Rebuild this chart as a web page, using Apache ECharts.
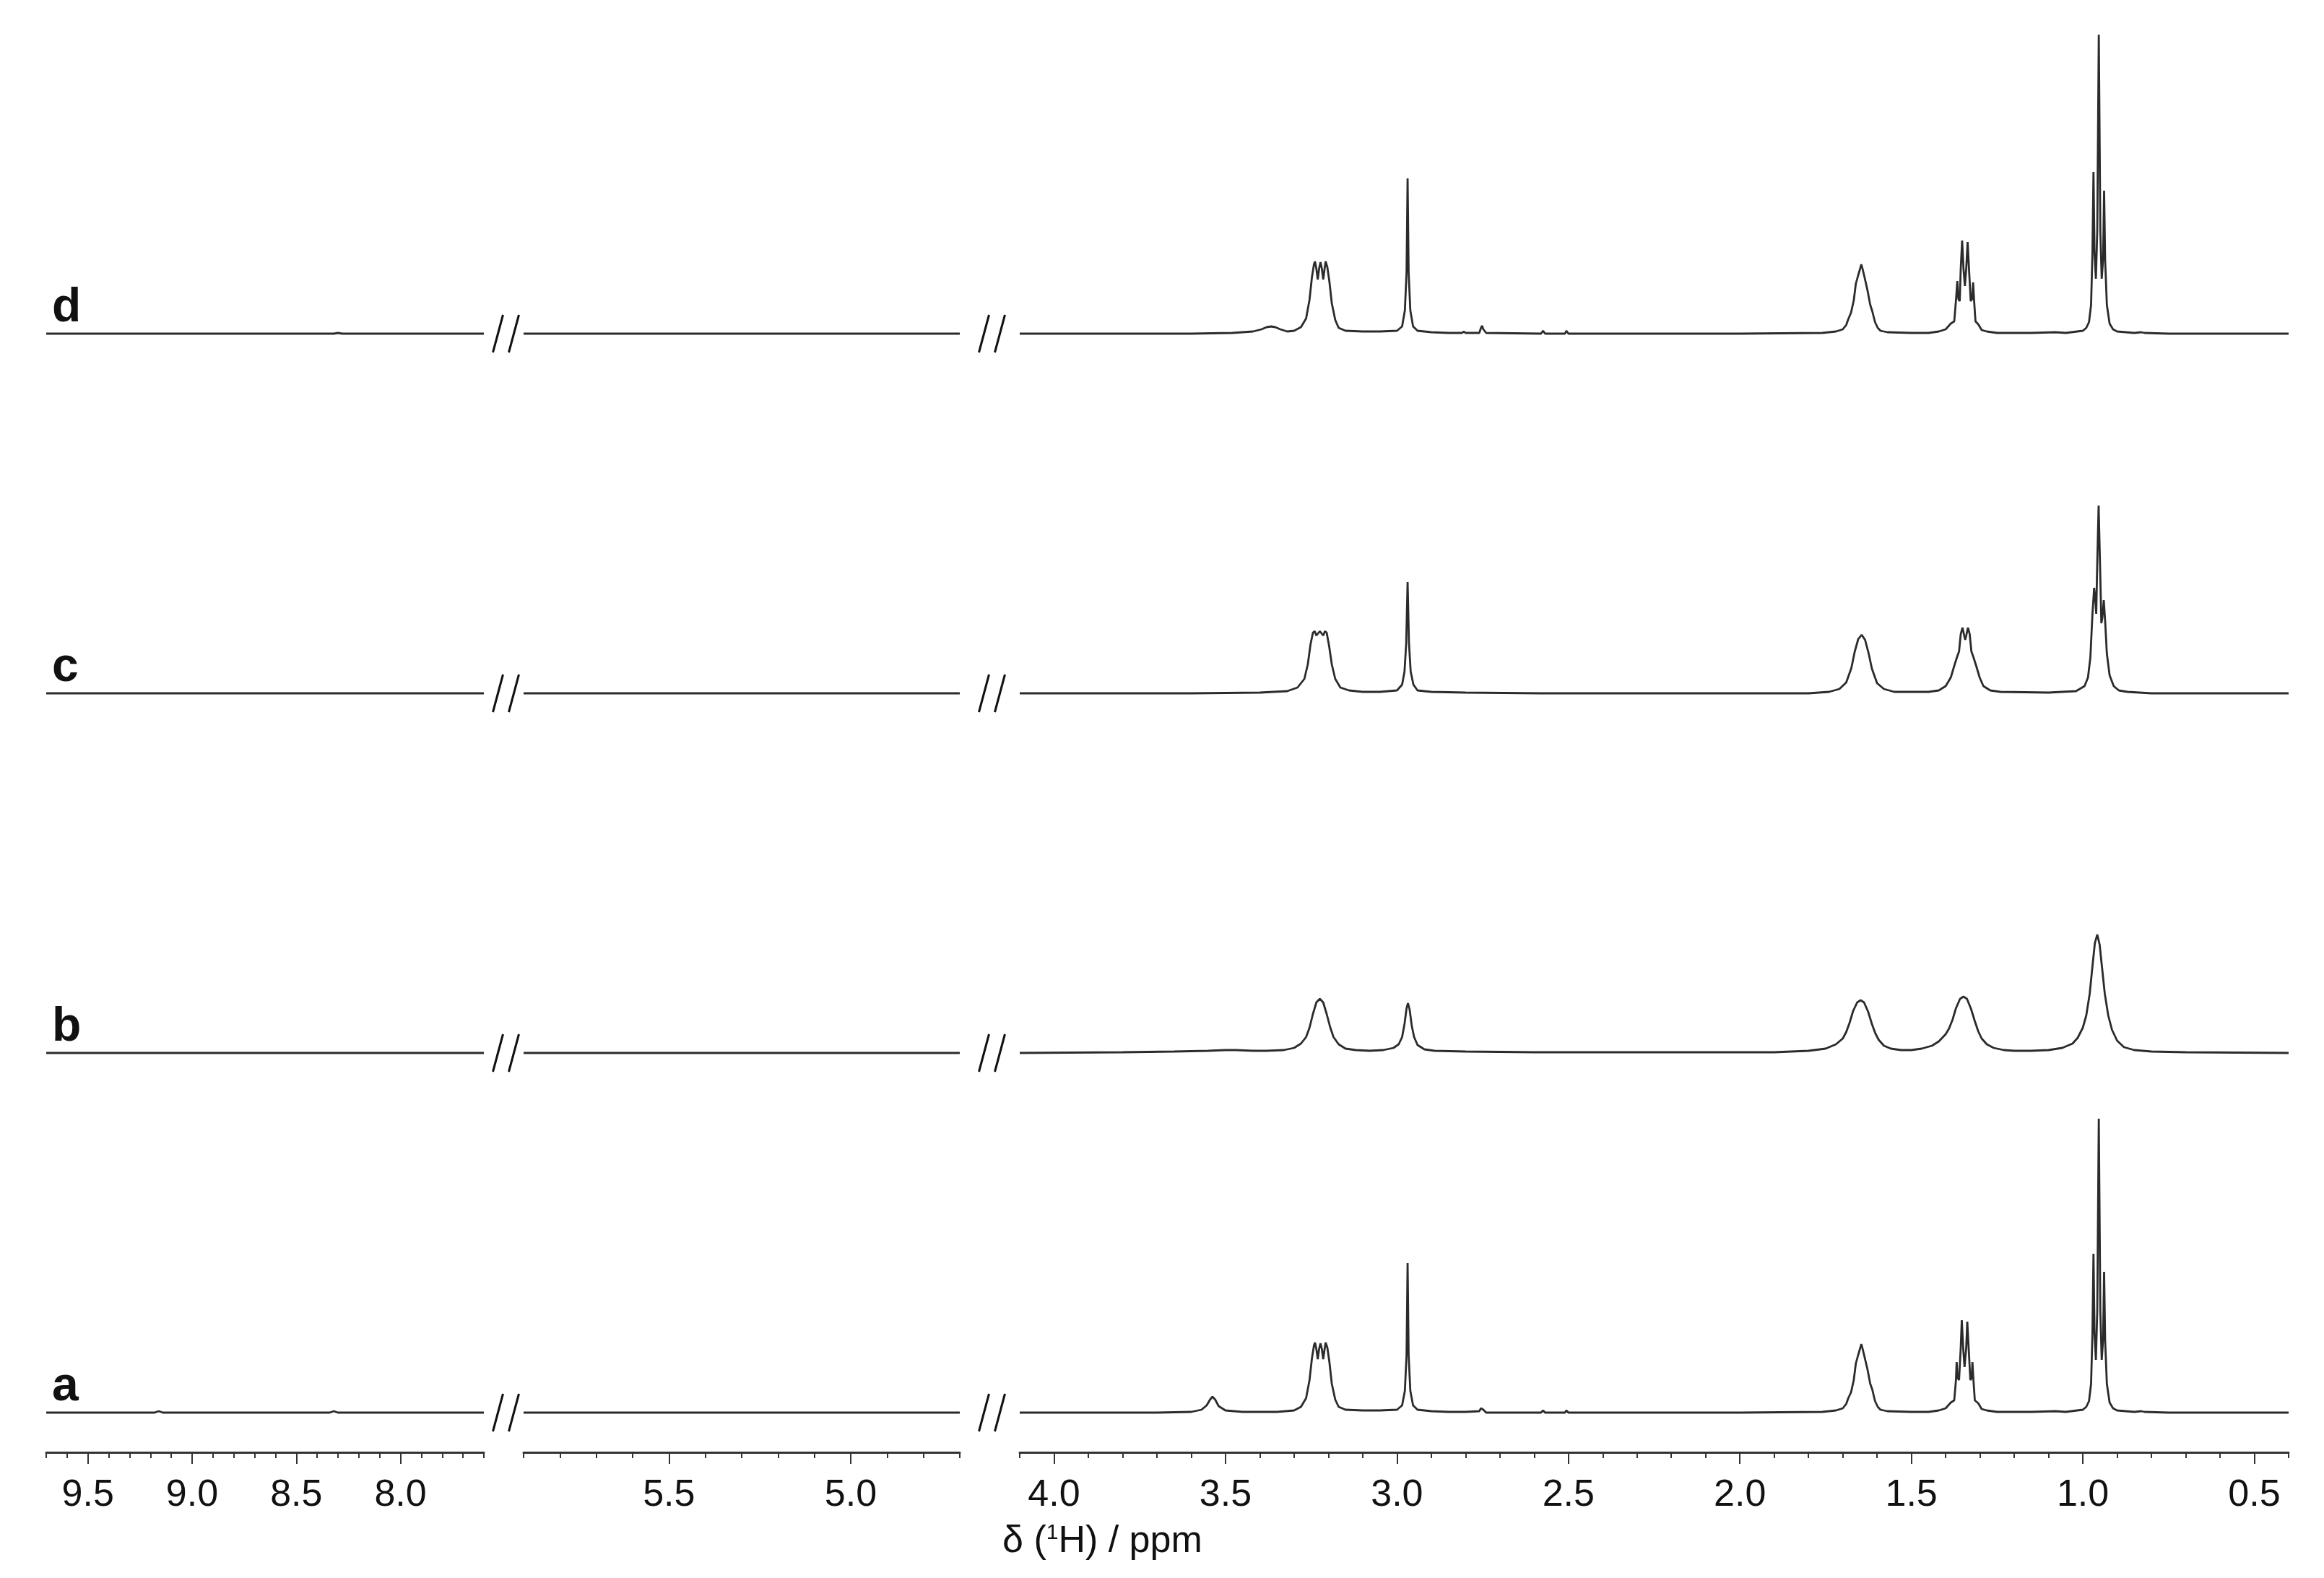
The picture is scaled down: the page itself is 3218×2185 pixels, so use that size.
<!DOCTYPE html>
<html>
<head>
<meta charset="utf-8">
<script src="https://cdn.jsdelivr.net/npm/echarts@6/dist/echarts.min.js"></script>
<style>
  html, body { margin: 0; padding: 0; background: #fff; }
  #chart { width: 3218px; height: 2185px; }
</style>
</head>
<body>
<div id="chart"></div>
<script>
// ppm windows of the three axis pieces (min, max), drawn reversed
const ppmRanges = [[7.6, 9.7], [4.7, 5.9], [0.4, 4.1]]
const majorTicks = [
  [9.5, 9.0, 8.5, 8.0],
  [5.5, 5.0],
  [4.0, 3.5, 3.0, 2.5, 2.0, 1.5, 1.0, 0.5]
]
const rowLabels = ['a', 'b', 'c', 'd']
// vertical shift of each trace (stacked spectra)
const rowOffsets = [55, 553, 1051, 1549]

// [ppm, intensity]
const aLeft = [[9.7, 0], [9.18, 0], [9.16, 2], [9.14, 0], [8.34, 0], [8.32, 2], [8.30, 0], [7.6, 0]]
const aMid = [[5.9, 0], [4.7, 0]]
const traceA = [
  [4.10, 0], [3.70, 0], [3.60, 1], [3.57, 4], [3.555, 10], [3.545, 18], [3.538, 22], [3.53, 18], [3.52, 9], [3.50, 3], [3.45, 1],
  [3.35, 1], [3.30, 3], [3.28, 8], [3.265, 20], [3.255, 45], [3.248, 75], [3.242, 93], [3.239, 97], [3.235, 88], [3.231, 74],
  [3.227, 88], [3.223, 96], [3.219, 88], [3.215, 74], [3.211, 88], [3.208, 97], [3.203, 90], [3.197, 70], [3.19, 40], [3.18, 18],
  [3.17, 8], [3.15, 4], [3.10, 3], [3.05, 3], [3.00, 4], [2.985, 10], [2.977, 30], [2.972, 80], [2.969, 207], [2.966, 80],
  [2.961, 30], [2.953, 10], [2.94, 4], [2.90, 2], [2.85, 1], [2.80, 1], [2.76, 2], [2.755, 6], [2.752, 7], [2.748, 4], [2.74, 0],
  [2.58, 0], [2.574, 3], [2.568, 0], [2.51, 0], [2.506, 3], [2.50, 0], [2.00, 0],
  [1.76, 1], [1.72, 3], [1.70, 6], [1.69, 12], [1.684, 20], [1.676, 28], [1.668, 45], [1.662, 68], [1.655, 80], [1.650, 88],
  [1.646, 95], [1.642, 88], [1.636, 76], [1.628, 60], [1.620, 40], [1.614, 32], [1.606, 16], [1.598, 8], [1.59, 4], [1.57, 2],
  [1.50, 1], [1.45, 1], [1.42, 3], [1.40, 6], [1.385, 14], [1.375, 17], [1.37, 45], [1.368, 70], [1.365, 48], [1.361, 45],
  [1.356, 90], [1.353, 128], [1.349, 90], [1.345, 63], [1.340, 90], [1.337, 126], [1.333, 90], [1.328, 45], [1.324, 48],
  [1.322, 70], [1.319, 45], [1.315, 17], [1.305, 13], [1.295, 5], [1.28, 3], [1.25, 1], [1.15, 1], [1.08, 2], [1.05, 1],
  [1.00, 4], [0.99, 8], [0.982, 16], [0.976, 40], [0.972, 110], [0.969, 220], [0.966, 110], [0.962, 73], [0.958, 140],
  [0.9535, 407], [0.949, 140], [0.945, 73], [0.941, 100], [0.938, 195], [0.935, 100], [0.930, 40], [0.922, 14], [0.912, 6],
  [0.90, 3], [0.85, 1], [0.83, 2], [0.826, 3], [0.82, 1], [0.75, 0], [0.40, 0]
]

const bLeft = [[9.7, 0], [7.6, 0]]
const bMid = [[5.9, 0], [4.7, 0]]
const traceB = [
  [4.10, 0], [3.80, 1], [3.65, 2], [3.55, 3], [3.50, 4], [3.47, 4], [3.42, 3], [3.38, 3], [3.33, 4], [3.30, 7], [3.28, 13],
  [3.265, 22], [3.255, 35], [3.245, 54], [3.235, 70], [3.225, 75], [3.215, 70], [3.205, 54], [3.195, 36], [3.185, 22],
  [3.17, 12], [3.15, 6], [3.12, 4], [3.08, 3], [3.04, 4], [3.01, 7], [2.995, 12], [2.985, 22], [2.978, 40], [2.972, 62],
  [2.968, 69], [2.963, 60], [2.957, 38], [2.95, 22], [2.94, 11], [2.92, 5], [2.89, 3], [2.80, 2], [2.60, 1], [2.20, 1],
  [1.90, 1], [1.80, 3], [1.75, 6], [1.72, 12], [1.70, 20], [1.69, 29], [1.68, 42], [1.67, 58], [1.658, 70], [1.648, 73],
  [1.638, 70], [1.626, 57], [1.615, 40], [1.605, 27], [1.595, 18], [1.58, 10], [1.56, 6], [1.53, 4], [1.50, 4], [1.47, 6],
  [1.44, 10], [1.42, 16], [1.40, 26], [1.39, 34], [1.38, 46], [1.37, 62], [1.358, 75], [1.348, 78], [1.338, 75], [1.326, 61],
  [1.315, 44], [1.305, 30], [1.295, 20], [1.28, 12], [1.26, 7], [1.23, 4], [1.20, 3], [1.15, 3], [1.10, 4], [1.06, 7],
  [1.03, 13], [1.015, 21], [1.00, 35], [0.99, 52], [0.98, 82], [0.972, 120], [0.965, 152], [0.958, 164], [0.951, 150],
  [0.944, 118], [0.936, 82], [0.926, 52], [0.915, 32], [0.90, 17], [0.88, 8], [0.85, 4], [0.80, 2], [0.70, 1], [0.40, 0]
]

const cLeft = [[9.7, 0], [7.6, 0]]
const cMid = [[5.9, 0], [4.7, 0]]
const traceC = [
  [4.10, 0], [3.60, 0], [3.40, 1], [3.32, 3], [3.29, 8], [3.27, 20], [3.26, 40], [3.252, 68], [3.245, 84], [3.240, 86],
  [3.235, 80], [3.230, 83], [3.225, 86], [3.22, 83], [3.215, 80], [3.21, 86], [3.205, 84], [3.198, 66], [3.19, 40],
  [3.18, 20], [3.165, 8], [3.14, 4], [3.10, 2], [3.05, 2], [3.00, 4], [2.985, 12], [2.978, 30], [2.973, 70], [2.969, 154],
  [2.965, 70], [2.96, 30], [2.952, 12], [2.94, 4], [2.90, 2], [2.80, 1], [2.58, 0], [1.80, 0], [1.74, 2], [1.71, 6],
  [1.69, 15], [1.675, 35], [1.665, 58], [1.655, 75], [1.645, 81], [1.635, 74], [1.625, 56], [1.615, 34], [1.60, 14],
  [1.58, 6], [1.55, 2], [1.45, 2], [1.42, 4], [1.40, 10], [1.385, 22], [1.375, 38], [1.367, 50], [1.361, 58], [1.356, 82],
  [1.351, 91], [1.346, 80], [1.343, 74], [1.340, 80], [1.335, 91], [1.330, 82], [1.325, 58], [1.319, 50], [1.311, 38],
  [1.301, 22], [1.29, 10], [1.27, 4], [1.24, 2], [1.10, 1], [1.02, 3], [0.995, 10], [0.985, 22], [0.978, 50], [0.972, 110],
  [0.967, 146], [0.963, 125], [0.961, 110], [0.958, 180], [0.954, 260], [0.950, 180], [0.946, 97], [0.943, 105],
  [0.939, 129], [0.935, 100], [0.93, 55], [0.922, 25], [0.91, 10], [0.895, 4], [0.87, 2], [0.80, 0], [0.40, 0]
]

const dLeft = [[9.7, 0], [8.32, 0], [8.30, 1], [8.28, 0], [7.6, 0]]
const dMid = [[5.9, 0], [4.7, 0]]
const traceD = [
  [4.10, 0], [3.60, 0], [3.48, 1], [3.42, 3], [3.395, 6], [3.38, 9], [3.367, 10], [3.355, 9], [3.34, 6], [3.32, 3],
  [3.30, 4], [3.28, 9], [3.265, 21], [3.255, 47], [3.248, 78], [3.242, 96], [3.239, 100], [3.235, 90], [3.231, 75],
  [3.227, 90], [3.223, 99], [3.219, 90], [3.215, 75], [3.211, 90], [3.208, 100], [3.203, 92], [3.197, 72], [3.19, 42],
  [3.18, 19], [3.17, 8], [3.15, 4], [3.10, 3], [3.05, 3], [3.00, 4], [2.985, 10], [2.977, 32], [2.972, 85], [2.969, 215],
  [2.966, 85], [2.961, 32], [2.953, 10], [2.94, 4], [2.90, 2], [2.85, 1], [2.81, 1], [2.805, 3], [2.80, 1], [2.76, 1],
  [2.755, 8], [2.752, 11], [2.748, 6], [2.74, 1], [2.58, 0], [2.574, 4], [2.568, 0], [2.51, 0], [2.506, 4], [2.50, 0],
  [2.00, 0], [1.76, 1], [1.72, 3], [1.70, 6], [1.69, 12], [1.684, 20], [1.676, 29], [1.668, 46], [1.662, 69], [1.655, 81],
  [1.650, 89], [1.646, 96], [1.642, 89], [1.636, 77], [1.628, 60], [1.620, 40], [1.614, 31], [1.606, 16], [1.598, 8],
  [1.59, 4], [1.57, 2], [1.50, 1], [1.45, 1], [1.42, 3], [1.40, 6], [1.385, 14], [1.375, 17], [1.37, 46], [1.366, 73],
  [1.363, 48], [1.359, 45], [1.356, 90], [1.352, 129], [1.348, 90], [1.344, 66], [1.340, 90], [1.336, 127], [1.332, 90],
  [1.327, 45], [1.323, 48], [1.320, 71], [1.317, 45], [1.313, 17], [1.305, 13], [1.295, 5], [1.28, 3], [1.25, 1],
  [1.15, 1], [1.08, 2], [1.05, 1], [1.00, 4], [0.99, 8], [0.982, 16], [0.976, 40], [0.972, 112], [0.969, 224],
  [0.966, 112], [0.962, 76], [0.958, 142], [0.9535, 414], [0.949, 142], [0.945, 76], [0.941, 102], [0.938, 198],
  [0.935, 102], [0.930, 40], [0.922, 14], [0.912, 6], [0.90, 3], [0.85, 1], [0.83, 2], [0.826, 3], [0.82, 1], [0.75, 0],
  [0.40, 0]
]

const traces = [
  [aLeft, aMid, traceA],
  [bLeft, bMid, traceB],
  [cLeft, cMid, traceC],
  [dLeft, dMid, traceD]
]

const FONT = '"Liberation Sans", Arial, Helvetica, sans-serif'
const INK = '#2b2b2b'
// pixel boxes of the three axis pieces
const boxes = [
  { left: 64, width: 606 },
  { left: 725, width: 604 },
  { left: 1412, width: 1757 }
]
const Y_MAX = 1991

const chart = echarts.init(document.getElementById('chart'))

const grid = []
const xAxis = []
const yAxis = []
const series = []

boxes.forEach((b, g) => {
  const [lo, hi] = ppmRanges[g]
  grid.push({ left: b.left, width: b.width, top: 20, bottom: 174, containLabel: false, outerBoundsMode: 'none' })
  // minor ticks + axis line
  xAxis.push({
    gridIndex: g, type: 'value', position: 'bottom', min: lo, max: hi, inverse: true, interval: 0.1,
    axisLine: { show: true, onZero: false, lineStyle: { color: '#333', width: 3 } },
    axisTick: { show: true, inside: false, length: 8, lineStyle: { color: '#333', width: 2 } },
    axisLabel: { show: false },
    splitLine: { show: false }
  })
  // major ticks + labels
  xAxis.push({
    gridIndex: g, type: 'value', position: 'bottom', offset: 0, min: lo, max: hi, inverse: true,
    axisLine: { show: false, onZero: false },
    axisTick: { show: true, inside: false, length: 16, customValues: majorTicks[g], lineStyle: { color: '#333', width: 2 } },
    axisLabel: {
      show: true, customValues: majorTicks[g], formatter: (v) => Number(v).toFixed(1),
      fontSize: 52, fontFamily: FONT, color: '#111', margin: 34
    },
    splitLine: { show: false }
  })
  yAxis.push({ gridIndex: g, type: 'value', min: 0, max: Y_MAX, show: false })
})

traces.forEach((row, r) => {
  row.forEach((pts, g) => {
    series.push({
      type: 'line',
      xAxisIndex: g * 2,
      yAxisIndex: g,
      data: pts.map(p => [p[0], rowOffsets[r] + p[1]]),
      showSymbol: false,
      symbol: 'none',
      silent: true,
      lineStyle: { color: INK, width: 2.8 }
    })
  })
})

chart.setOption({
  animation: false,
  backgroundColor: '#fff',
  grid: grid,
  xAxis: xAxis,
  yAxis: yAxis,
  series: series
})

// labels, break marks and axis title placed through the chart's own scales
const graphic = []
rowOffsets.forEach((off, r) => {
  const left = chart.convertToPixel({ gridIndex: 0 }, [ppmRanges[0][1], off])
  graphic.push({
    type: 'text', x: left[0] + 8, y: left[1] - 35,
    style: { text: rowLabels[r], fontSize: 66, fontWeight: 'bold', fontFamily: FONT, fill: '#111', verticalAlign: 'middle' }
  })
  for (let g = 0; g < 2; g++) {
    const endA = chart.convertToPixel({ gridIndex: g }, [ppmRanges[g][0], off])
    const endB = chart.convertToPixel({ gridIndex: g + 1 }, [ppmRanges[g + 1][1], off])
    const cx = (endA[0] + endB[0]) / 2 + 3
    const cy = endA[1]
    ;[-11, 11].forEach(dx => {
      graphic.push({
        type: 'line',
        shape: { x1: cx + dx - 7, y1: cy + 26, x2: cx + dx + 7, y2: cy - 26 },
        style: { stroke: '#111', lineWidth: 3 }
      })
    })
  }
})
graphic.push({
  type: 'text', x: 1388, y: 2135,
  style: {
    text: 'δ ({sup|1}H) / ppm',
    fontSize: 52, fontFamily: FONT, fill: '#111', verticalAlign: 'middle',
    rich: { sup: { fontSize: 30, fontFamily: FONT, fill: '#111', padding: [0, 0, 24, 0] } }
  }
})
chart.setOption({ graphic: graphic })
</script>
</body>
</html>
